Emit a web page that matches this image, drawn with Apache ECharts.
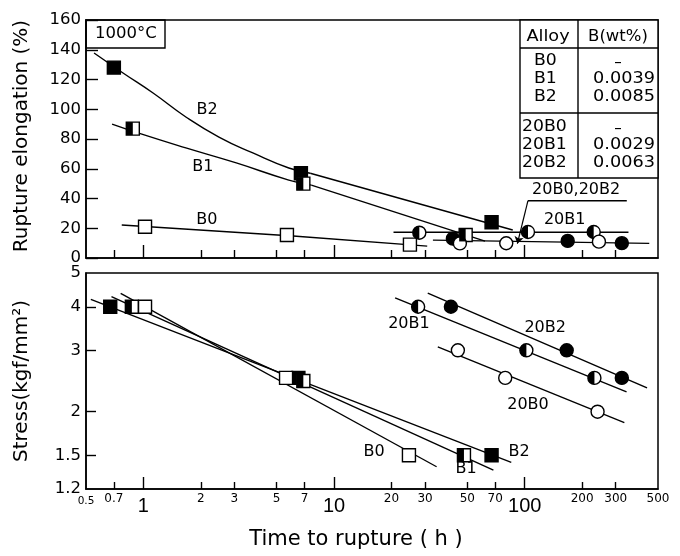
<!DOCTYPE html>
<html><head><meta charset="utf-8">
<script src="https://cdn.jsdelivr.net/npm/echarts@6/dist/echarts.min.js"></script>
<style>html,body{margin:0;padding:0;background:#fff}#c{width:680px;height:556px}</style>
</head><body><div id="c"></div>
<script>
// ---- tick / label values ----
const xMajorTicks = [1, 10, 100];
const xMinorTicks = [0.7, 2, 3, 5, 7, 20, 30, 50, 70, 200, 300];
const xSmallLabels = [0.5, 0.7, 2, 3, 5, 7, 20, 30, 50, 70, 200, 300, 500];
const yBotTicks = [1.5, 2, 3, 4];
const yBotLabels = [1.2, 1.5, 2, 3, 4, 5];

// ---- top panel: rupture elongation (%) vs time (h) ----
const topB2 = [[0.7, 128], [6.7, 57], [67, 24]];
const topB1 = [[0.88, 87], [6.9, 50], [49, 15.5]];
const topB0 = [[1.02, 21], [5.66, 15.5], [25, 9]];
const top20B2 = [[42, 13], [168, 11.5], [323, 10]];
const top20B1 = [[28, 17], [104, 17.5], [230, 17.5]];
const top20B0 = [[45.7, 9.8], [80, 9.9], [245, 11]];
// fitted curves (top)
const topB2Curve = [[0.551, 137.8], [0.782, 124.4], [1.124, 110.9], [1.67, 94.8], [2.49, 81.3], [3.75, 70.6], [5.79, 60.5], [7.5, 57]];
const topB2Tail = [[7.5, 57], [86.5, 18.8]];
const topB1Curve = [[0.685, 90], [0.972, 83.4], [1.67, 74], [3.07, 63.9], [5.79, 52.4], [7.6, 49]];
const topB1Tail = [[7.6, 49], [61.9, 11.4]];
const topB0Line = [[0.77, 22.2], [6.1, 14.8], [30.8, 8]];
const top20B1Line = [[20.5, 17.3], [350, 17.3]];
const top20B02Line = [[33, 12], [450, 9.8]];
const topNoteLine = [[104, 38.5], [343, 38.5]];
const topArrow = [[104, 38.5], [91.5, 9.6]];
const topLabels = [[2.16, 99.5, 'B2'], [2.05, 61.2, 'B1'], [2.15, 25.5, 'B0'], [186, 45.7, '20B0,20B2'], [162, 25.5, '20B1']];

// ---- bottom panel: stress (kgf/mm2) vs time (h) ----
const botB2 = [[0.67, 4], [6.5, 2.5], [67, 1.5]];
const botB1 = [[0.87, 4], [6.9, 2.45], [48, 1.5]];
const botB0 = [[1.02, 4], [5.6, 2.5], [24.7, 1.5]];
const bot20B1 = [[27.6, 4], [102, 3], [232, 2.5]];
const bot20B2 = [[41, 4], [166, 3], [323, 2.5]];
const bot20B0 = [[44.6, 3], [79, 2.5], [241, 2]];
const botB2Line = [[0.53, 4.2], [85, 1.43]];
const botB1Line = [[0.68, 4.28], [68.5, 1.36]];
const botB0Line = [[0.76, 4.37], [34.5, 1.39]];
const bot20B1Line = [[20.9, 4.24], [342, 2.28]];
const bot20B2Line = [[31, 4.38], [438, 2.34]];
const bot20B0Line = [[35, 3.07], [333, 1.86]];
const botLabels = [[24.7, 3.58, '20B1'], [128, 3.48, '20B2'], [104, 2.09, '20B0'], [16.2, 1.53, 'B0'], [49.3, 1.37, 'B1'], [93.5, 1.53, 'B2']];

const F = "'DejaVu Sans', sans-serif";
const FL = "'Liberation Sans', Arial, sans-serif";
const K = '#000';
const HALF_SQ = 'path://M0,0L1,0L1,2L0,2Z';
const HALF_CI = 'path://M10,0A10,10 0 0 0 10,20Z';

function fmt(v) { return String(+(+v).toPrecision(3)); }

function lineS(g, data, smooth) {
  return { type: 'line', xAxisIndex: g * 2, yAxisIndex: g, data: data, smooth: smooth ? 0.5 : false,
    symbol: 'none', showSymbol: false, lineStyle: { color: K, width: 1.4 }, z: 2, silent: true };
}
function markS(g, data, symbol, fill) {
  return { type: 'scatter', xAxisIndex: g * 2, yAxisIndex: g, data: data, symbol: symbol, symbolSize: 13,
    itemStyle: { color: fill, borderColor: K, borderWidth: 1.4, opacity: 1 }, z: 3, silent: true };
}
function halfS(g, data, path) {
  return { type: 'scatter', xAxisIndex: g * 2, yAxisIndex: g, data: data, symbol: path, symbolSize: [6.5, 13],
    symbolOffset: [-3.25, 0], itemStyle: { color: K, borderWidth: 0, opacity: 1 }, z: 4, silent: true };
}
function labelS(g, arr) {
  return { type: 'scatter', xAxisIndex: g * 2, yAxisIndex: g, symbolSize: 0, z: 5, silent: true,
    itemStyle: { opacity: 1 },
    data: arr.map(a => ({ value: [a[0], a[1]], name: a[2] })),
    label: { show: true, position: 'inside', formatter: p => p.name, color: K, opacity: 1, fontFamily: F, fontSize: 16 } };
}

function xAxisBase(g) {
  return { type: 'log', logBase: 10, min: 0.5, max: 500, gridIndex: g, position: 'bottom',
    splitLine: { show: false }, axisLine: { show: false }, axisLabel: { show: false }, axisTick: { show: false } };
}
const ax0 = xAxisBase(0);
ax0.axisLine = { show: true, lineStyle: { color: K, width: 1.5 } };
ax0.axisTick = { show: true, inside: true, length: 13, customValues: xMajorTicks, lineStyle: { color: K, width: 1.4 } };
const ax1 = xAxisBase(0);
ax1.axisTick = { show: true, inside: true, length: 8, customValues: xMinorTicks, lineStyle: { color: K, width: 1.4 } };
const ax2 = xAxisBase(1);
ax2.axisLine = { show: true, lineStyle: { color: K, width: 1.5 } };
ax2.axisTick = { show: true, inside: true, length: 12, customValues: xMajorTicks, lineStyle: { color: K, width: 1.4 } };
ax2.axisLabel = { show: true, customValues: xMajorTicks, formatter: fmt, color: K, fontFamily: FL, fontSize: 20, margin: 7 };
const ax3 = xAxisBase(1);
ax3.axisTick = { show: true, inside: true, length: 7, customValues: xMinorTicks, lineStyle: { color: K, width: 1.4 } };
ax3.axisLabel = { show: true, customValues: xSmallLabels, color: K, fontFamily: F, fontSize: 12, margin: 4,
  formatter: v => (fmt(v) === '0.5' ? '{s|0.5}' : fmt(v)), rich: { s: { fontSize: 10.5, fontFamily: F, color: K, padding: [3, 0, 0, 0] } } };

function T(x, y, text, align, size, sx) {
  return { type: 'text', x: x, y: y, scaleX: sx || 1, z: 11,
    style: { text: text, font: size + 'px ' + F, fill: K, align: align, verticalAlign: 'middle' } };
}

const option = {
  animation: false,
  backgroundColor: '#fff',
  grid: [
    { left: 86, top: 20, width: 572, height: 238, show: true, borderColor: K, borderWidth: 1.5 },
    { left: 86, top: 273, width: 572, height: 216, show: true, borderColor: K, borderWidth: 1.5 }
  ],
  xAxis: [ax0, ax1, ax2, ax3],
  yAxis: [
    { type: 'value', gridIndex: 0, min: 0, max: 160, interval: 20, splitLine: { show: false },
      axisLine: { show: true, lineStyle: { color: K, width: 1.5 } },
      axisTick: { show: true, inside: true, length: 12, lineStyle: { color: K, width: 1.4 } },
      axisLabel: { color: K, fontFamily: F, fontSize: 16.5, margin: 5 } },
    { type: 'log', logBase: 10, gridIndex: 1, min: 1.2, max: 5, splitLine: { show: false },
      axisLine: { show: true, lineStyle: { color: K, width: 1.5 } },
      axisTick: { show: true, inside: true, length: 10, customValues: yBotTicks, lineStyle: { color: K, width: 1.4 } },
      axisLabel: { customValues: yBotLabels, formatter: fmt, color: K, fontFamily: F, fontSize: 16.5, margin: 5 } }
  ],
  series: [
    lineS(0, topB2Curve, true), lineS(0, topB2Tail), lineS(0, topB1Curve, true), lineS(0, topB1Tail),
    lineS(0, topB0Line), lineS(0, top20B1Line), lineS(0, top20B02Line), lineS(0, topNoteLine),
    { type: 'lines', coordinateSystem: 'cartesian2d', xAxisIndex: 0, yAxisIndex: 0, z: 2, silent: true,
      symbol: ['none', 'arrow'], symbolSize: 7, lineStyle: { color: K, width: 1.2, opacity: 1 },
      data: [{ coords: topArrow }] },
    markS(0, topB2, 'rect', K), markS(0, topB1, 'rect', '#fff'), markS(0, topB0, 'rect', '#fff'),
    markS(0, top20B2, 'circle', K), markS(0, top20B1, 'circle', '#fff'), markS(0, top20B0, 'circle', '#fff'),
    halfS(0, topB1, HALF_SQ), halfS(0, top20B1, HALF_CI),
    labelS(0, topLabels),

    lineS(1, botB2Line), lineS(1, botB1Line), lineS(1, botB0Line),
    lineS(1, bot20B1Line), lineS(1, bot20B2Line), lineS(1, bot20B0Line),
    markS(1, botB2, 'rect', K), markS(1, botB1, 'rect', '#fff'), markS(1, botB0, 'rect', '#fff'),
    markS(1, bot20B2, 'circle', K), markS(1, bot20B1, 'circle', '#fff'), markS(1, bot20B0, 'circle', '#fff'),
    halfS(1, botB1, HALF_SQ), halfS(1, bot20B1, HALF_CI),
    labelS(1, botLabels)
  ],
  graphic: [
    { type: 'rect', shape: { x: 86, y: 20, width: 79, height: 28 }, style: { fill: 'none', stroke: K, lineWidth: 1.4 }, z: 10 },
    T(126, 34, '1000°C', 'center', 16.5),
    { type: 'rect', shape: { x: 520, y: 20, width: 138, height: 158 }, style: { fill: '#fff', stroke: K, lineWidth: 1.4 }, z: 10 },
    { type: 'line', shape: { x1: 578, y1: 20, x2: 578, y2: 178 }, style: { stroke: K, lineWidth: 1.4 }, z: 10 },
    { type: 'line', shape: { x1: 520, y1: 48, x2: 658, y2: 48 }, style: { stroke: K, lineWidth: 1.4 }, z: 10 },
    { type: 'line', shape: { x1: 520, y1: 113, x2: 658, y2: 113 }, style: { stroke: K, lineWidth: 1.4 }, z: 10 },
    T(548, 37, 'Alloy', 'center', 15, 1.18),
    T(618, 37, 'B(wt%)', 'center', 15, 1.1),
    T(534, 61, 'B0', 'left', 15, 1.15),
    T(534, 79, 'B1', 'left', 15, 1.15),
    T(534, 97, 'B2', 'left', 15, 1.15),
    T(522, 127, '20B0', 'left', 15, 1.15),
    T(522, 145, '20B1', 'left', 15, 1.15),
    T(522, 163, '20B2', 'left', 15, 1.15),
    T(618, 63, '–', 'center', 15),
    T(655, 79, '0.0039', 'right', 15, 1.18),
    T(655, 97, '0.0085', 'right', 15, 1.18),
    T(618, 129, '–', 'center', 15),
    T(655, 145, '0.0029', 'right', 15, 1.18),
    T(655, 163, '0.0063', 'right', 15, 1.18),
    { type: 'text', x: 22, y: 136, rotation: Math.PI / 2, z: 11, style: { text: 'Rupture elongation (%)', font: '20px ' + F, fill: K, align: 'center', verticalAlign: 'middle' } },
    { type: 'text', x: 22, y: 381, rotation: Math.PI / 2, z: 11, style: { text: 'Stress(kgf/mm²)', font: '20px ' + F, fill: K, align: 'center', verticalAlign: 'middle' } },
    { type: 'text', x: 356, y: 540, z: 11, style: { text: 'Time to rupture ( h )', font: '21px ' + F, fill: K, align: 'center', verticalAlign: 'middle' } }
  ]
};
const chart = echarts.init(document.getElementById('c'), null, { renderer: 'canvas' });
chart.setOption(option);
</script></body></html>
